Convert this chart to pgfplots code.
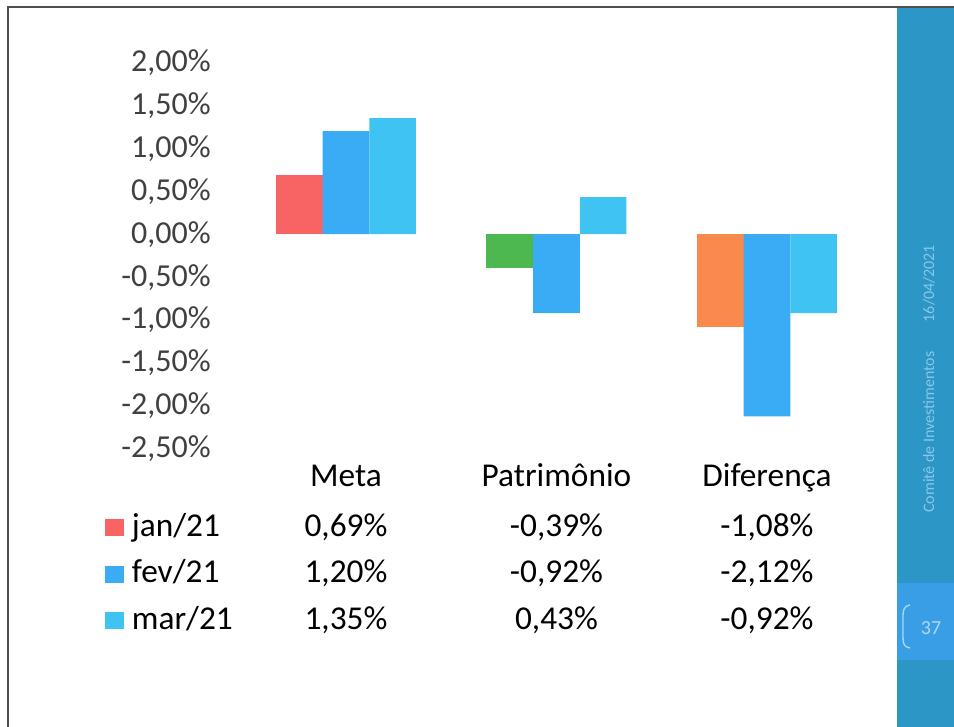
\documentclass[border=0pt]{standalone}
\usepackage{pgfplots}
\pgfplotsset{compat=1.18}
\usepackage{fontspec}
\setmainfont{Carlito}
\definecolor{cRed}{HTML}{F86464}
\definecolor{cGreen}{HTML}{4DB84F}
\definecolor{cOrange}{HTML}{FA8A4C}
\definecolor{cBlue}{HTML}{3AABF5}
\definecolor{cLBlue}{HTML}{3EC3F3}
\definecolor{txt}{HTML}{404040}
\definecolor{side}{HTML}{2C96C6}
\definecolor{sidebox}{HTML}{3A9EE6}
\definecolor{sidetext}{HTML}{86C8EA}
\definecolor{frame}{HTML}{505050}
\newcommand{\bigf}{\fontsize{24}{28}\selectfont}
\newcommand{\tabf}{\fontsize{25}{29}\selectfont}
\newcommand{\sw}[1]{\textcolor{#1}{\rule{14pt}{12.75pt}}\hspace{6pt}}
\begin{document}
\begin{tikzpicture}
\begin{scope}[x=0.75pt,y=-0.75pt]
\useasboundingbox (0,0) rectangle (954,727);
\fill[white] (0,0) rectangle (954,727);
\fill[side] (897,8) rectangle (954,727);
\fill[sidebox] (897,583) rectangle (954,660);
\draw[frame, line width=2pt] (8,727) -- (8,7) -- (954,7);
\node[rotate=90, anchor=west, text=sidetext, inner sep=0, font=\fontsize{12}{14}\selectfont] at (929,513) {Comitê de Investimentos\hspace{22pt}16/04/2021};
\node[text=sidetext!70!white, font=\fontsize{15}{17}\selectfont] at (931,628) {37};
\draw[sidetext!70!white, line width=1pt] (910,605) .. controls (904,606) and (903,610) .. (903,616) -- (903,637) .. controls (903,644) and (904,647) .. (910,648);
\end{scope}
\begin{axis}[
  at={(180.5625pt,-336.75pt)}, anchor=south west,
  scale only axis, width=473.6pt, height=290pt,
  xmin=-0.5, xmax=2.5, ymin=-2.5, ymax=2,
  clip=false,
  axis line style={draw=none},
  tick style={draw=none},
  xtick=\empty,
  ytick={-2.5,-2,-1.5,-1,-0.5,0,0.5,1,1.5,2},
  yticklabels={{-2,50\%},{-2,00\%},{-1,50\%},{-1,00\%},{-0,50\%},{0,00\%},{0,50\%},{1,00\%},{1,50\%},{2,00\%}},
  yticklabel style={font=\bigf, text=txt, inner sep=0pt, anchor=east, xshift=-22.3pt},
  every node/.append style={text=txt},
]
\addplot[ybar, bar width=35pt, bar shift=-35pt, fill=cRed, draw=none] coordinates {(0,0.69)};
\addplot[ybar, bar width=35pt, bar shift=-35pt, fill=cGreen, draw=none] coordinates {(1,-0.39)};
\addplot[ybar, bar width=35pt, bar shift=-35pt, fill=cOrange, draw=none] coordinates {(2,-1.08)};
\addplot[ybar, bar width=35pt, bar shift=0pt, fill=cBlue, draw=none] coordinates {(0,1.20) (1,-0.92) (2,-2.12)};
\addplot[ybar, bar width=35pt, bar shift=35pt, fill=cLBlue, draw=none] coordinates {(0,1.35) (1,0.43) (2,-0.92)};
% category labels
\node[anchor=base, font=\tabf, inner sep=0] at (axis cs:0,-2.931) {Meta};
\node[anchor=base, font=\tabf, inner sep=0] at (axis cs:1,-2.931) {Patrimônio};
\node[anchor=base, font=\tabf, inner sep=0] at (axis cs:2,-2.931) {Diferença};
% legend
\node[anchor=base west, font=\tabf, inner sep=0] at (axis cs:-1.145,-3.513) {\sw{cRed}jan/21};
\node[anchor=base west, font=\tabf, inner sep=0] at (axis cs:-1.145,-4.054) {\sw{cBlue}fev/21};
\node[anchor=base west, font=\tabf, inner sep=0] at (axis cs:-1.145,-4.595) {\sw{cLBlue}mar/21};
% data table
\node[anchor=base, font=\tabf, inner sep=0] at (axis cs:0,-3.513) {0,69\%};
\node[anchor=base, font=\tabf, inner sep=0] at (axis cs:1,-3.513) {-0,39\%};
\node[anchor=base, font=\tabf, inner sep=0] at (axis cs:2,-3.513) {-1,08\%};
\node[anchor=base, font=\tabf, inner sep=0] at (axis cs:0,-4.054) {1,20\%};
\node[anchor=base, font=\tabf, inner sep=0] at (axis cs:1,-4.054) {-0,92\%};
\node[anchor=base, font=\tabf, inner sep=0] at (axis cs:2,-4.054) {-2,12\%};
\node[anchor=base, font=\tabf, inner sep=0] at (axis cs:0,-4.595) {1,35\%};
\node[anchor=base, font=\tabf, inner sep=0] at (axis cs:1,-4.595) {0,43\%};
\node[anchor=base, font=\tabf, inner sep=0] at (axis cs:2,-4.595) {-0,92\%};
\end{axis}
\end{tikzpicture}
\end{document}
